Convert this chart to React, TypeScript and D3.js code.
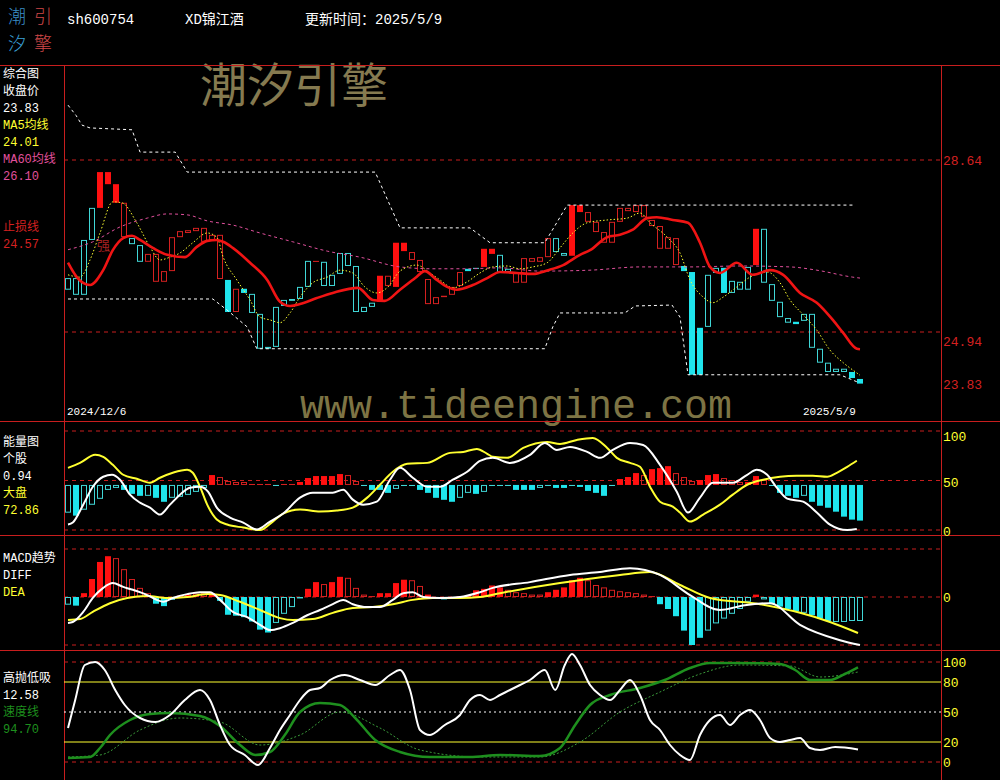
import * as d3 from "d3";

// 100 sessions, 2024/12/6 .. 2025/5/9
const opens = [
  26.10, 26.10, 26.92, 27.61, 27.61, 28.12, 27.72, 26.98, 26.96, 26.81,
  26.45, 26.02, 26.02, 26.25, 26.98, 27.07, 27.11, 26.88, 26.92, 26.08,
  26.06, 25.37, 25.87, 25.76, 25.33, 24.62, 25.48, 25.63, 25.65, 25.91,
  26.47, 26.45, 26.45, 26.17, 26.64, 26.64, 26.36, 25.48, 25.57, 25.59,
  25.93, 25.91, 26.68, 26.49, 26.23, 25.54, 25.54, 25.69, 25.74, 25.93,
  26.30, 26.32, 26.34, 26.62, 26.60, 26.30, 26.00, 26.00, 26.45, 26.45,
  26.55, 26.96, 26.64, 26.58, 27.52, 27.31, 27.09, 26.86, 26.86, 27.31,
  27.54, 27.52, 27.41, 27.22, 26.73, 26.73, 26.38, 26.36, 26.23, 25.03,
  26.17, 26.32, 26.32, 26.04, 26.02, 26.34, 26.38, 27.16, 25.97, 25.59,
  25.24, 25.16, 25.33, 25.33, 24.58, 24.28, 24.15, 24.15, 24.08, 23.93,
];
const closes = [
  25.85, 25.74, 25.74, 26.92, 28.38, 28.38, 28.12, 27.72, 26.83, 26.45,
  26.62, 26.62, 26.25, 26.98, 27.11, 27.13, 27.18, 27.18, 27.03, 27.03,
  25.37, 25.87, 25.78, 25.35, 24.58, 24.58, 24.62, 25.50, 25.61, 25.65,
  25.91, 26.47, 25.93, 25.93, 26.19, 26.36, 25.37, 25.37, 25.48, 26.15,
  26.15, 26.86, 26.86, 26.66, 26.49, 26.08, 25.69, 25.72, 25.91, 26.23,
  26.25, 26.30, 26.73, 26.73, 26.23, 26.23, 26.23, 26.53, 26.53, 26.55,
  26.96, 26.66, 26.58, 27.67, 27.67, 27.52, 27.31, 27.09, 27.31, 27.61,
  27.61, 27.67, 27.67, 27.35, 27.22, 26.98, 26.96, 26.25, 24.02, 24.02,
  25.05, 26.21, 25.78, 25.78, 25.85, 25.85, 27.16, 26.00, 25.61, 25.26,
  25.14, 25.11, 25.18, 24.60, 24.28, 24.08, 24.08, 24.08, 23.95, 23.83,
];
// R red filled, r red hollow, C cyan filled, c cyan hollow
const candleStyle = [
  "cccc", "RRR", "r", "cc", "rrrrrrrrrr", "C", "r", "C", "cccccccc", "r",
  "ccccccc", "R", "r", "RR", "rrrrrrr", "C", "c", "RR", "cc", "rrrrr",
  "cc", "RR", "rrrrrrrrrrrr", "CCC", "cc", "C", "ccc", "R", "cccc", "C",
  "cccccc", "CC",
].join("");

// thick red stop-loss line
const stopIdx = [0, 1.1, 2.75, 4.4, 5.6, 6.9, 8, 9, 10.6, 12.4, 14.6, 16.1, 17.4, 18.6, 19.4, 20.6, 22.75, 24.9, 26.5, 27.75, 29, 31.1, 33.1, 36.25, 38.1, 39.6, 41.5, 43.4, 44.6, 46.1, 47.4, 48.6, 50.6, 52.4, 54, 56.1, 58.1, 60, 61.9, 64, 65.25, 67.4, 69, 70.6, 72.4, 73.6, 75.6, 77.5, 79, 80.25, 81.5, 83.6, 85.6, 87.75, 89.4, 91.5, 93.6, 95.6, 96.9, 98.6, 99];
const stopVal = [26.43, 26.12, 25.95, 26.27, 26.70, 26.96, 27.01, 26.92, 26.75, 26.60, 26.55, 26.77, 26.90, 26.92, 26.88, 26.75, 26.43, 26.06, 25.59, 25.50, 25.54, 25.67, 25.78, 25.89, 25.63, 25.61, 25.85, 26.10, 26.25, 26.06, 25.91, 25.85, 25.95, 26.10, 26.23, 26.21, 26.19, 26.27, 26.38, 26.60, 26.70, 26.98, 27.03, 27.14, 27.39, 27.41, 27.35, 27.29, 26.86, 26.34, 26.21, 26.43, 26.17, 26.27, 26.17, 25.78, 25.57, 25.20, 24.92, 24.58, 24.57];

const ma60Idx = [0, 3.1, 6.5, 9.9, 12.4, 14.9, 17.4, 20.6, 24, 28.1, 32.4, 36.5, 41.5, 45.6, 49.9, 54, 59, 65.25, 71.5, 77.75, 84, 90.25, 93.6, 98.1, 99];
const ma60Val = [26.71, 26.88, 27.20, 27.39, 27.48, 27.46, 27.33, 27.24, 27.07, 26.88, 26.68, 26.55, 26.34, 26.30, 26.30, 26.32, 26.25, 26.27, 26.34, 26.34, 26.36, 26.34, 26.27, 26.12, 26.10];

const ma5Idx = [0, 1.5, 2.75, 4, 5.6, 6.75, 8.6, 10.25, 11.5, 12.75, 14, 15.6, 17.4, 18.6, 19.4, 21.1, 22.75, 24, 25.25, 26.5, 27.75, 29, 30.6, 32.4, 34, 35.6, 37.1, 38.6, 40, 41.5, 43.6, 45.25, 46.5, 48.1, 49.9, 51.5, 53.1, 54.9, 56.5, 58.1, 59.9, 61.5, 63.1, 64.9, 67.4, 69.9, 71.5, 72.75, 74.9, 76.5, 77.75, 79.4, 80.6, 81.9, 83.6, 85.25, 87.4, 89, 90.25, 91.9, 93.6, 95.25, 96.9, 98.6, 99];
const ma5Val = [26.17, 26.12, 26.49, 27.07, 27.74, 27.72, 27.29, 26.77, 26.49, 26.55, 26.64, 26.86, 27.07, 26.98, 26.55, 26.06, 25.63, 25.26, 25.20, 25.14, 25.35, 25.69, 26.00, 26.12, 26.27, 26.21, 25.91, 25.78, 25.91, 26.25, 26.38, 26.21, 26.06, 25.89, 26.02, 26.21, 26.34, 26.36, 26.30, 26.34, 26.43, 26.75, 27.07, 27.29, 27.35, 27.39, 27.50, 27.29, 26.98, 26.64, 26.06, 25.69, 25.57, 25.69, 25.91, 26.12, 26.23, 26.00, 25.63, 25.31, 24.98, 24.55, 24.28, 24.06, 24.01];

// white dashed channel
const upIdx = [0, 1, 1.75, 2.75, 8, 9, 13.4, 14.9, 38.4, 41.5, 50.25, 52.75, 59.6, 62.4, 98.4];
const upVal = [29.82, 29.6, 29.39, 29.33, 29.29, 28.81, 28.81, 28.38, 28.38, 27.18, 27.18, 26.86, 26.86, 27.67, 27.67];
const loIdx = [0, 18.1, 19.9, 22.4, 23.6, 59.6, 60.6, 61.5, 69.6, 70.9, 75.5, 76.5, 77.5, 96.5, 98.6];
const loVal = [25.65, 25.65, 25.41, 25.05, 24.58, 24.58, 25.05, 25.35, 25.35, 25.50, 25.52, 25.26, 24.02, 24.02, 23.87];

const priceGrid = [28.64, 24.94];
const priceLabels = [28.64, 24.94, 23.83];

// 能量图
const volBars = [
  -28, -31, -25, -20, -14, -5, -3, -5, -9, -11,
  -11, -13, -17, -13, -12, -10, -7, -3, 10, 8,
  4, 3, 3, 1, 1, 1, 0, 1, 1, 3,
  7, 9, 9, 9, 11, 10, 4, -0.5, -5, -5,
  -8, -4, 0, -0.5, -5, -8, -13, -15, -17, -13,
  -8, -9, -7, -0.5, 0, 0, -5, -5, -5, -3,
  -0.5, -3, -3, -1, -2, -6, -8, -11, -1, 6,
  8, 12, 10, 16, 17, 19, 12, 8, 4, 5,
  10, 11, 7, 5, 3, 3, 9, 5, -0.5, -8,
  -11, -13, -11, -17, -21, -23, -27, -32, -35, -36,
];
const volFill = [
  "HFHHHHHFFF", "HFFHHHHHFH", "HHHHHHHHHF", "FFFFFHHHFF", "FHHHFFFFFH",
  "HFHHHHFFFH", "HFFHFFFFHF", "FFHFFFHHHF", "FFHHHFFHHF", "FFHFFFFFFF",
].join("");
const vyIdx = [0, 1.5, 3.4, 4.4, 5.6, 6.9, 8.6, 10.25, 11.5, 13.1, 14.9, 15.6, 16.5, 17.4, 18.6, 19.9, 21.9, 24, 25.6, 26.9, 29, 31.5, 33.6, 35.6, 37.4, 39, 40.6, 42.4, 44.9, 47.75, 49.4, 51.1, 52.4, 53.1, 54.9, 56.9, 59.9, 61.5, 63.6, 65.6, 67.4, 68.6, 70.25, 71.5, 72.75, 74, 75.6, 76.5, 77.75, 79.4, 81.5, 83.1, 84.9, 86.9, 89, 91.1, 93.1, 94.9, 96.1, 97.4, 98.6];
const vyVal = [62.8, 67.8, 75.9, 73.9, 65.8, 55.8, 51.8, 47.7, 52.8, 57.8, 60.8, 57.8, 43.7, 25.6, 10.6, 5.5, 2.5, 0, 8.5, 16.6, 20.6, 18.6, 19.6, 22.6, 32.7, 45.7, 58.8, 66.8, 67.8, 77.9, 78.9, 81.9, 77, 73.9, 72.9, 82.9, 88.9, 86.9, 91, 93, 82.9, 72.9, 67.8, 63.8, 43.7, 28.6, 23.6, 17.6, 8.5, 15.6, 25.6, 35.7, 45.7, 50.8, 53.8, 54.8, 54.8, 53.8, 57.8, 63.8, 70];
const vwIdx = [0, 0.6, 1.9, 3.1, 4.4, 5.5, 6.5, 7.75, 9, 10.25, 11.5, 12.75, 14, 15.25, 16.5, 17.5, 18.6, 20.25, 21.9, 23.6, 25.25, 26.9, 29, 30.6, 33.1, 34.4, 35.6, 36.9, 38.6, 40.25, 41.5, 43.1, 44.9, 46.5, 48.1, 49.9, 51.5, 53.1, 55.25, 57.75, 59.6, 61.1, 62.75, 64.9, 66.5, 68.1, 70.25, 71.9, 74, 76.1, 77.5, 79, 80.6, 83.1, 84.9, 86.1, 87.4, 88.6, 89.9, 91.9, 93.6, 95.25, 97.4, 98.6];
const vwVal = [5.5, 7.5, 25.6, 43.7, 53.8, 55.8, 50.8, 35.7, 27.6, 22.6, 15.6, 25.6, 35.7, 42.7, 43.7, 38.7, 22.6, 12.6, 7.5, 0.5, 8.5, 16.6, 32.7, 37.7, 37.7, 40.7, 30.7, 25.6, 28.6, 50.8, 62.8, 52.8, 43.7, 43.7, 50.8, 58.8, 69.8, 72.9, 67.8, 75.9, 87.9, 80.9, 83.9, 78.9, 72.9, 80.9, 87.9, 85.9, 65.8, 38.7, 17.6, 32.7, 47.7, 47.7, 55.8, 60.8, 55.8, 42.7, 31.7, 28.6, 17.6, 5.5, 0, 0.94];
const volTicks = [100, 50, 0];

// MACD趋势
const macdBars = [
  -0.16, -0.18, 0.08, 0.375, 0.73, 0.85, 0.81, 0.58, 0.375, 0.19,
  0.08, -0.14, -0.19, -0.06, 0.03, 0.05, 0.07, 0.08, 0.08, -0.08,
  -0.37, -0.39, -0.42, -0.51, -0.68, -0.74, -0.54, -0.35, -0.21, -0.03,
  0.17, 0.31, 0.27, 0.31, 0.42, 0.40, 0.19, 0.05, 0.02, 0.08,
  0.08, 0.29, 0.36, 0.35, 0.23, 0.05, -0.02, -0.05, -0.03, 0.02,
  0.03, 0.14, 0.17, 0.24, 0.2, 0.15, 0.1, 0.08, 0.05, 0.05,
  0.1, 0.15, 0.2, 0.35, 0.4, 0.35, 0.25, 0.2, 0.15, 0.12,
  0.1, 0.08, 0.05, 0.02, -0.15, -0.25, -0.4, -0.7, -1.0, -0.85,
  -0.7, -0.55, -0.45, -0.35, -0.25, -0.1, 0.05, -0.05, -0.15, -0.2,
  -0.25, -0.3, -0.33, -0.38, -0.45, -0.5, -0.52, -0.52, -0.5, -0.5,
];
const macdFill = [
  "HFFFFFHHHH", "HFFHFFHHFF", "FFFFFFHHHH", "FFHFFHHHHF", "FFFHHFFFFF",
  "FFFFFHHHHH", "FFFFFHHHHH", "HHHHFFFFFF", "HHHHHHFHFF", "FFHFFFHHHH",
].join("");
const diffIdx = [0, 0.6, 1.9, 3.1, 4.4, 5.6, 6.9, 8.1, 9.9, 11.1, 11.9, 13.1, 14.9, 16.5, 17.75, 19, 20.6, 22.4, 24, 25.25, 26.5, 28.1, 29.9, 31.5, 33.1, 34.4, 35.6, 37.4, 39, 40.6, 41.9, 43.1, 44.4, 46.5, 49, 51.5, 53.1, 57.75, 62.75, 66.5, 70.25, 74, 77.75, 81.5, 84.6, 87.75, 91.5, 96.5, 99];
const diffVal = [-0.54, -0.52, -0.31, -0.02, 0.19, 0.29, 0.21, 0.15, 0.04, -0.06, -0.10, -0.02, 0.06, 0.10, 0.10, -0.06, -0.31, -0.42, -0.58, -0.69, -0.65, -0.54, -0.38, -0.27, -0.15, -0.06, -0.15, -0.21, -0.21, -0.06, 0.08, 0.10, 0, -0.02, 0, 0.10, 0.19, 0.31, 0.46, 0.52, 0.60, 0.46, 0.04, -0.27, -0.17, -0.13, -0.58, -0.90, -1.0];
const deaIdx = [0, 1.5, 3.1, 5.25, 7.4, 9.9, 12.4, 14.9, 17.4, 19, 21.5, 24, 26.5, 28.1, 30.6, 33.1, 35.6, 38.1, 40.6, 43.1, 45.6, 49, 51.5, 54, 61.5, 69, 72.75, 76.5, 80.25, 86.5, 91.5, 95.25, 98.75];
const deaVal = [-0.48, -0.46, -0.31, -0.13, -0.02, 0.02, -0.02, 0, 0.06, 0.04, -0.10, -0.27, -0.44, -0.48, -0.46, -0.33, -0.23, -0.21, -0.15, -0.06, -0.02, -0.02, 0, 0.08, 0.29, 0.46, 0.52, 0.25, -0.02, -0.15, -0.33, -0.52, -0.75];

// 高抛低吸
const hlIdx = [0, 0.9, 2.1, 3.4, 4.6, 5.9, 7.1, 9, 10.9, 12.75, 14.6, 16.5, 17.75, 19, 20.25, 22.1, 23.75, 25.25, 26.5, 27.75, 29, 30.25, 31.5, 32.75, 34.6, 36.5, 38.4, 40.25, 41.5, 42.75, 44, 45.25, 47.1, 49, 50.25, 51.5, 52.75, 54, 55.25, 56.5, 57.75, 59.6, 60.9, 62.1, 63, 64, 65.25, 66.5, 67.75, 69, 70.25, 71.5, 72.75, 74, 75.25, 76.5, 77.75, 79, 80.25, 81.5, 82.75, 84, 85.25, 86.5, 87.75, 89, 90.25, 91.5, 92.75, 94, 95.9, 98.75];
const hlVal = [34, 62, 97, 100, 92, 72, 57, 44, 40, 47, 62, 72, 62, 37, 17, 7, -3, 14, 32, 47, 62, 72, 74, 82, 87, 82, 77, 87, 92, 72, 32, 27, 37, 47, 62, 67, 62, 67, 72, 77, 82, 92, 72, 97, 108, 97, 77, 67, 62, 72, 82, 67, 42, 32, 17, 7, 2, 27, 42, 47, 37, 47, 52, 42, 24, 20, 22, 24, 14, 12, 15, 12.58];
const speedIdx = [0, 2.75, 4, 5.25, 7.75, 10.25, 12.75, 16.5, 19, 21.5, 23.4, 25.25, 27.1, 29, 31.5, 34, 35.9, 38.4, 41.5, 45.25, 50.25, 54, 59, 61.5, 63.4, 65.25, 67.75, 71.5, 74.6, 77.75, 80.25, 84, 89, 90.9, 92.75, 95.25, 97.1, 98.75];
const speedVal = [4, 5, 14, 27, 42, 48, 49, 46, 36, 17, 7, 10, 27, 50, 59, 57, 44, 22, 10, 5, 5, 7, 6, 14, 37, 57, 67, 74, 82, 94, 99, 99, 98, 92, 82, 82, 88, 94.7];
const speedMaIdx = [0, 4, 9, 14, 19, 24, 29, 34, 39, 44, 51.5, 59, 64, 69, 74, 79, 84, 90.25, 94, 98.75];
const speedMaVal = [5, 7, 32, 44, 40, 17, 27, 50, 34, 12, 5, 5, 20, 50, 70, 88, 97, 96, 85, 90];
const hlTicks = [100, 80, 50, 20, 0];

const RED = "#ff1010";
const RED_LINE = "#d42020";
const CYAN = "#1fe4ec";
const CYAN_LINE = "#40d6d6";
const YEL = "#ffff30";
const PINK = "#e0509c";
const GREEN = "#1e8f1e";
const GRID = "#c81e1e";
const MONO = "'Liberation Mono','Noto Sans CJK SC',monospace";

const x = d3.scaleLinear().domain([0, 99]).range([68, 860]);
const yPrice = d3.scaleLinear().domain([24.94, 28.64]).range([332, 160]);
const yVol = d3.scaleLinear().domain([0, 100]).range([530, 431]);
const yMacd = d3.scaleLinear().domain([-1, 1]).range([645, 549]);
const yHl = d3.scaleLinear().domain([0, 100]).range([762, 662]);
const VOL_BASE = 45.5;

function trace(idx: number[], vals: number[], y: (v: number) => number, curve: d3.CurveFactory = d3.curveMonotoneX) {
  return (
    d3
      .line<number>()
      .x((_, k) => x(idx[k]))
      .y((v) => y(v))
      .curve(curve)(vals) ?? ""
  );
}

function Bar({ i, y0, y1, red, filled }: { i: number; y0: number; y1: number; red: boolean; filled: boolean }) {
  const top = Math.min(y0, y1);
  const h = Math.abs(y1 - y0);
  if (filled) {
    return <rect x={x(i) - 3} y={top} width={6} height={Math.max(h, 1)} fill={red ? RED : CYAN} />;
  }
  return (
    <rect
      x={x(i) - 2.5}
      y={top + 0.5}
      width={5}
      height={Math.max(h - 1, 0.05)}
      fill="none"
      stroke={red ? RED_LINE : CYAN_LINE}
      strokeWidth={1}
    />
  );
}

function HLine({ y, color, dash }: { y: number; color: string; dash?: string }) {
  return <line x1={64} x2={941} y1={y} y2={y} stroke={color} strokeWidth={1} strokeDasharray={dash} />;
}

export default function App() {
  const mainLabels: [string, string, number][] = [
    ["综合图", "#ffffff", 0],
    ["收盘价", "#ffffff", 1],
    ["23.83", "#ffffff", 2],
    ["MA5均线", YEL, 3],
    ["24.01", YEL, 4],
    ["MA60均线", PINK, 5],
    ["26.10", PINK, 6],
    ["止损线", RED_LINE, 9],
    ["24.57", RED_LINE, 10],
  ];
  const volLabels: [string, string][] = [
    ["能量图", "#ffffff"],
    ["个股", "#ffffff"],
    ["0.94", "#ffffff"],
    ["大盘", YEL],
    ["72.86", YEL],
  ];
  const macdLabels: [string, string][] = [
    ["MACD趋势", "#ffffff"],
    ["DIFF", "#ffffff"],
    ["DEA", YEL],
  ];
  const hlLabels: [string, string][] = [
    ["高抛低吸", "#ffffff"],
    ["12.58", "#ffffff"],
    ["速度线", GREEN],
    ["94.70", GREEN],
  ];
  const hlLineStyle = (v: number): [string, string | undefined] =>
    v === 80 || v === 20 ? [YEL, undefined] : v === 50 ? ["#ffffff", "2,3"] : [GRID, "4,4"];

  return (
    <div style={{ position: "fixed", left: 0, top: 0, width: 1000, height: 780, background: "#000" }}>
      <svg width={1000} height={780} style={{ display: "block" }}>
        <rect width={1000} height={780} fill="#000" />

        {/* header */}
        <g fontFamily="'Noto Sans CJK SC'" fontSize={18} fontWeight={300}>
          <text x={8} y={23} fill="#3a8fc8">潮</text>
          <text x={34} y={23} fill="#d04848">引</text>
          <text x={8} y={50} fill="#3aa0d8">汐</text>
          <text x={34} y={50} fill="#d04848">擎</text>
        </g>
        <g fontFamily={MONO} fontSize={14} fill="#ffffff">
          <text x={67} y={24}>sh600754</text>
          <text x={185} y={24}>XD锦江酒</text>
          <text x={305} y={24}>更新时间：2025/5/9</text>
        </g>

        {/* watermarks */}
        <text x={200} y={102} fontFamily="'Noto Sans CJK SC'" fontSize={47} fill="#857a50">潮汐引擎</text>
        <text x={300} y={418} fontFamily="'Liberation Mono',monospace" fontSize={40} fill="#7d7444">www.tideengine.com</text>

        {/* frame */}
        <g stroke={GRID} strokeWidth={1}>
          <line x1={0} x2={1000} y1={65.5} y2={65.5} />
          <line x1={0} x2={1000} y1={421.5} y2={421.5} />
          <line x1={0} x2={1000} y1={535.5} y2={535.5} />
          <line x1={0} x2={1000} y1={650.5} y2={650.5} />
          <line x1={64.5} x2={64.5} y1={65} y2={780} />
          <line x1={941.5} x2={941.5} y1={65} y2={780} />
        </g>

        {/* main panel */}
        {priceGrid.map((p) => (
          <HLine key={p} y={yPrice(p)} color={GRID} dash="4,4" />
        ))}
        {priceLabels.map((p, k) => (
          <text key={p} x={943} y={yPrice(p) + (k === 1 ? 14 : 5)} fontFamily={MONO} fontSize={13} fill={RED_LINE}>
            {p.toFixed(2)}
          </text>
        ))}
        {opens.map((o, i) => {
          const s = candleStyle[i];
          return (
            <Bar
              key={i}
              i={i}
              y0={yPrice(o)}
              y1={yPrice(closes[i])}
              red={s === "R" || s === "r"}
              filled={s === "R" || s === "C"}
            />
          );
        })}
        <path d={trace(upIdx, upVal, yPrice, d3.curveLinear)} fill="none" stroke="#ffffff" strokeWidth={1} strokeDasharray="3,3" />
        <path d={trace(loIdx, loVal, yPrice, d3.curveLinear)} fill="none" stroke="#ffffff" strokeWidth={1} strokeDasharray="3,3" />
        <path d={trace(ma60Idx, ma60Val, yPrice)} fill="none" stroke={PINK} strokeWidth={1} strokeDasharray="3,3" />
        <path d={trace(ma5Idx, ma5Val, yPrice)} fill="none" stroke={YEL} strokeWidth={1} strokeDasharray="1.5,2" />
        <path d={trace(stopIdx, stopVal, yPrice)} fill="none" stroke="#f01414" strokeWidth={2.6} />
        <text x={97} y={250} fontFamily="'Noto Sans CJK SC'" fontSize={13} fill="#a82020">强</text>
        <g fontFamily={MONO} fontSize={11} fill="#ffffff">
          <text x={67} y={415}>2024/12/6</text>
          <text x={803} y={415}>2025/5/9</text>
        </g>
        <g fontFamily={MONO} fontSize={12}>
          {mainLabels.map(([t, c, row]) => (
            <text key={t} x={3} y={78 + row * 17} fill={c}>{t}</text>
          ))}
        </g>

        {/* 能量图 */}
        {volTicks.map((v) => (
          <HLine key={v} y={yVol(v)} color={GRID} dash="4,4" />
        ))}
        {volTicks.map((v, k) => (
          <text key={v} x={943} y={yVol(v) + (k === 0 ? 10 : 6)} fontFamily={MONO} fontSize={13} fill={YEL}>{v}</text>
        ))}
        {volBars.map((d, i) => (
          <Bar key={i} i={i} y0={yVol(VOL_BASE)} y1={yVol(VOL_BASE + d)} red={d > 0} filled={volFill[i] === "F"} />
        ))}
        <path d={trace(vyIdx, vyVal, yVol)} fill="none" stroke={YEL} strokeWidth={2} />
        <path d={trace(vwIdx, vwVal, yVol)} fill="none" stroke="#ffffff" strokeWidth={2} />
        <g fontFamily={MONO} fontSize={12}>
          {volLabels.map(([t, c], k) => (
            <text key={t} x={3} y={446 + k * 17} fill={c}>{t}</text>
          ))}
        </g>

        {/* MACD */}
        {[1, 0, -1].map((v) => (
          <HLine key={v} y={yMacd(v)} color={GRID} dash="4,4" />
        ))}
        <text x={943} y={yMacd(0) + 5} fontFamily={MONO} fontSize={13} fill={YEL}>0</text>
        {macdBars.map((d, i) => (
          <Bar key={i} i={i} y0={yMacd(0)} y1={yMacd(d)} red={d > 0} filled={macdFill[i] === "F"} />
        ))}
        <path d={trace(deaIdx, deaVal, yMacd)} fill="none" stroke={YEL} strokeWidth={2} />
        <path d={trace(diffIdx, diffVal, yMacd)} fill="none" stroke="#ffffff" strokeWidth={2} />
        <g fontFamily={MONO} fontSize={12}>
          {macdLabels.map(([t, c], k) => (
            <text key={t} x={3} y={562 + k * 17} fill={c}>{t}</text>
          ))}
        </g>

        {/* 高抛低吸 */}
        {hlTicks.map((v) => {
          const [c, dash] = hlLineStyle(v);
          return <HLine key={v} y={yHl(v)} color={c} dash={dash} />;
        })}
        {hlTicks.map((v) => (
          <text key={v} x={943} y={yHl(v) + 5} fontFamily={MONO} fontSize={13} fill={YEL}>{v}</text>
        ))}
        <path d={trace(speedMaIdx, speedMaVal, yHl)} fill="none" stroke="#3a9a3a" strokeWidth={1} strokeDasharray="2,2" />
        <path d={trace(speedIdx, speedVal, yHl)} fill="none" stroke={GREEN} strokeWidth={2.5} />
        <path d={trace(hlIdx, hlVal, yHl)} fill="none" stroke="#ffffff" strokeWidth={2} />
        <g fontFamily={MONO} fontSize={12}>
          {hlLabels.map(([t, c], k) => (
            <text key={t} x={3} y={682 + k * 17} fill={c}>{t}</text>
          ))}
        </g>
      </svg>
    </div>
  );
}
